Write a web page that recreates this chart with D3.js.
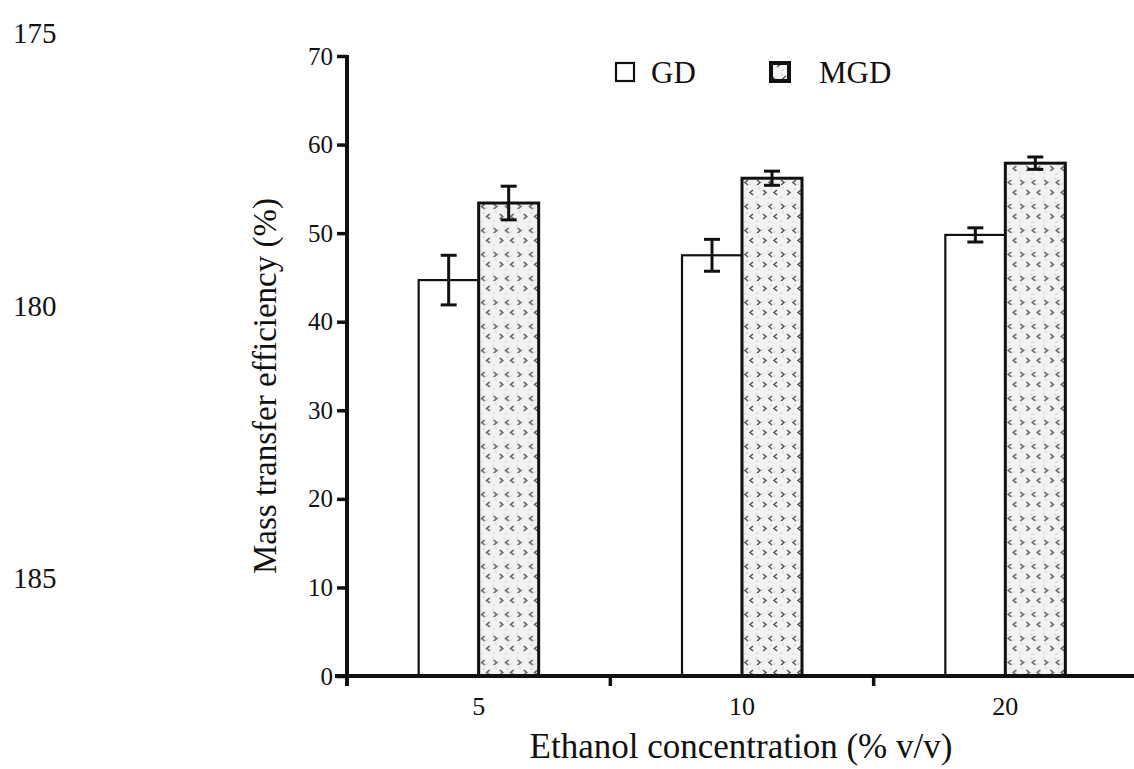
<!DOCTYPE html>
<html>
<head>
<meta charset="utf-8">
<script src="https://cdn.jsdelivr.net/npm/d3@7"></script>
<style>
  body { margin: 0; background: #fff; }
  text { font-family: "Liberation Serif", "Times New Roman", serif; fill: #111; }
</style>
</head>
<body>
<div id="chart"></div>
<script>
var categories = ["5", "10", "20"];
var seriesNames = ["GD", "MGD"];
var gdValues = [44.7, 47.5, 49.8];
var gdErrors = [2.8, 1.8, 0.8];
var mgdValues = [53.4, 56.2, 57.9];
var mgdErrors = [1.9, 0.8, 0.7];
var yTicks = [0, 10, 20, 30, 40, 50, 60, 70];
var lineNumbers = [175, 180, 185];

var width = 1134, height = 769;
var margin = {top: 56, right: -3, bottom: 93, left: 347};
var innerW = width - margin.left - margin.right;
var innerH = height - margin.top - margin.bottom;

var svg = d3.select("#chart").append("svg")
    .attr("width", width)
    .attr("height", height);

// fill pattern for MGD bars: light stipple with small chevrons
var defs = svg.append("defs");
var pat = defs.append("pattern")
    .attr("id", "mgdPattern")
    .attr("patternUnits", "userSpaceOnUse")
    .attr("width", 24)
    .attr("height", 24);
pat.append("rect").attr("width", 24).attr("height", 24).attr("fill", "#f2f2f2");
[[2, 2], [8, 6], [14, 3], [20, 8], [5, 12], [11, 16], [17, 13], [23, 18], [3, 21], [15, 22]].forEach(function(p) {
    pat.append("circle").attr("cx", p[0]).attr("cy", p[1]).attr("r", 0.8).attr("fill", "#c4c4c4");
});
pat.append("path").attr("d", "M3,4 l3,2.5 l-3,2.5").attr("fill", "none").attr("stroke", "#555").attr("stroke-width", 1.5);
pat.append("path").attr("d", "M18,4 l-3,2.5 l3,2.5").attr("fill", "none").attr("stroke", "#555").attr("stroke-width", 1.5);
pat.append("path").attr("d", "M9,14 l3,2.5 l-3,2.5").attr("fill", "none").attr("stroke", "#555").attr("stroke-width", 1.5);
pat.append("path").attr("d", "M23,14 l-3,2.5 l3,2.5").attr("fill", "none").attr("stroke", "#555").attr("stroke-width", 1.5);

// manuscript line numbers
var lineY = d3.scaleLinear().domain([175, 185]).range([33, 578]);
svg.selectAll(".lineno")
    .data(lineNumbers)
    .enter().append("text")
    .attr("class", "lineno")
    .attr("x", 13)
    .attr("y", function(d) { return lineY(d); })
    .attr("dy", "0.35em")
    .style("font-size", "29px")
    .text(function(d) { return d; });

var g = svg.append("g")
    .attr("transform", "translate(" + margin.left + "," + margin.top + ")");

var x0 = d3.scaleBand().domain(categories).range([0, innerW]).padding(0);
var x1 = d3.scaleBand().domain(seriesNames).range([0, 120]).padding(0);
var y = d3.scaleLinear().domain([0, 70]).range([innerH, 0]);

var groups = categories.map(function(c, i) {
    return [
        {cat: c, series: "GD", value: gdValues[i], err: gdErrors[i]},
        {cat: c, series: "MGD", value: mgdValues[i], err: mgdErrors[i]}
    ];
});

var groupG = g.selectAll(".grp")
    .data(groups)
    .enter().append("g")
    .attr("class", "grp")
    .attr("transform", function(d) { return "translate(" + (x0(d[0].cat) + x0.bandwidth() / 2 - 60) + ",0)"; });

groupG.selectAll("rect")
    .data(function(d) { return d; })
    .enter().append("rect")
    .attr("x", function(d) { return x1(d.series); })
    .attr("y", function(d) { return y(d.value); })
    .attr("width", x1.bandwidth())
    .attr("height", function(d) { return innerH - y(d.value); })
    .attr("fill", function(d) { return d.series === "GD" ? "#fff" : "url(#mgdPattern)"; })
    .attr("stroke", "#111")
    .attr("stroke-width", function(d) { return d.series === "GD" ? 2.2 : 3; });

// error bars
var eb = groupG.selectAll(".err")
    .data(function(d) { return d; })
    .enter().append("g")
    .attr("class", "err")
    .attr("transform", function(d) { return "translate(" + (x1(d.series) + x1.bandwidth() / 2) + ",0)"; });
eb.append("line")
    .attr("y1", function(d) { return y(d.value + d.err); })
    .attr("y2", function(d) { return y(d.value - d.err); })
    .attr("stroke", "#111").attr("stroke-width", 3);
eb.append("line")
    .attr("x1", -8).attr("x2", 8)
    .attr("y1", function(d) { return y(d.value + d.err); })
    .attr("y2", function(d) { return y(d.value + d.err); })
    .attr("stroke", "#111").attr("stroke-width", 3);
eb.append("line")
    .attr("x1", -8).attr("x2", 8)
    .attr("y1", function(d) { return y(d.value - d.err); })
    .attr("y2", function(d) { return y(d.value - d.err); })
    .attr("stroke", "#111").attr("stroke-width", 3);

// y axis
var yAxis = d3.axisLeft(y).tickValues(yTicks).tickSize(10).tickPadding(4);
var gY = g.append("g").attr("class", "axis axis--y").call(yAxis);
gY.select(".domain").remove();
gY.selectAll(".tick line").attr("stroke", "#111").attr("stroke-width", 3.5);
gY.selectAll(".tick text").style("font-size", "25px").attr("fill", "#111");
gY.append("line")
    .attr("x1", 0).attr("x2", 0)
    .attr("y1", -1).attr("y2", innerH + 10)
    .attr("stroke", "#111").attr("stroke-width", 4);

// x axis: ticks at category boundaries, labels at centres
var gX = g.append("g").attr("class", "axis axis--x")
    .attr("transform", "translate(0," + innerH + ")");
gX.append("line")
    .attr("x1", -12).attr("x2", innerW)
    .attr("stroke", "#111").attr("stroke-width", 4);
gX.selectAll(".bound")
    .data(categories.slice(1))
    .enter().append("line")
    .attr("class", "bound")
    .attr("x1", function(d) { return x0(d); })
    .attr("x2", function(d) { return x0(d); })
    .attr("y1", 0).attr("y2", 10)
    .attr("stroke", "#111").attr("stroke-width", 3.5);
gX.selectAll(".lab")
    .data(categories)
    .enter().append("text")
    .attr("class", "lab")
    .attr("x", function(d) { return x0(d) + x0.bandwidth() / 2; })
    .attr("y", 39)
    .attr("text-anchor", "middle")
    .style("font-size", "26px")
    .text(function(d) { return d; });

// axis titles
g.append("text")
    .attr("x", 394)
    .attr("y", innerH + 82)
    .attr("text-anchor", "middle")
    .style("font-size", "35px")
    .text("Ethanol concentration (% v/v)");

g.append("text")
    .attr("transform", "translate(-71," + (innerH / 2 + 20) + ") rotate(-90)")
    .attr("text-anchor", "middle")
    .style("font-size", "33px")
    .text("Mass transfer efficiency (%)");

// legend
var legend = svg.append("g").attr("class", "legend");
var legendX = [616, 771];
var legendTextX = [651, 819];
seriesNames.forEach(function(s, i) {
    legend.append("rect")
        .attr("x", legendX[i]).attr("y", 63)
        .attr("width", 18).attr("height", 18)
        .attr("fill", i === 0 ? "#fff" : "url(#mgdPattern)")
        .attr("stroke", "#111")
        .attr("stroke-width", i === 0 ? 2.2 : 4);
    legend.append("text")
        .attr("x", legendTextX[i]).attr("y", 83)
        .style("font-size", "31px")
        .text(s);
});
</script>
</body>
</html>
